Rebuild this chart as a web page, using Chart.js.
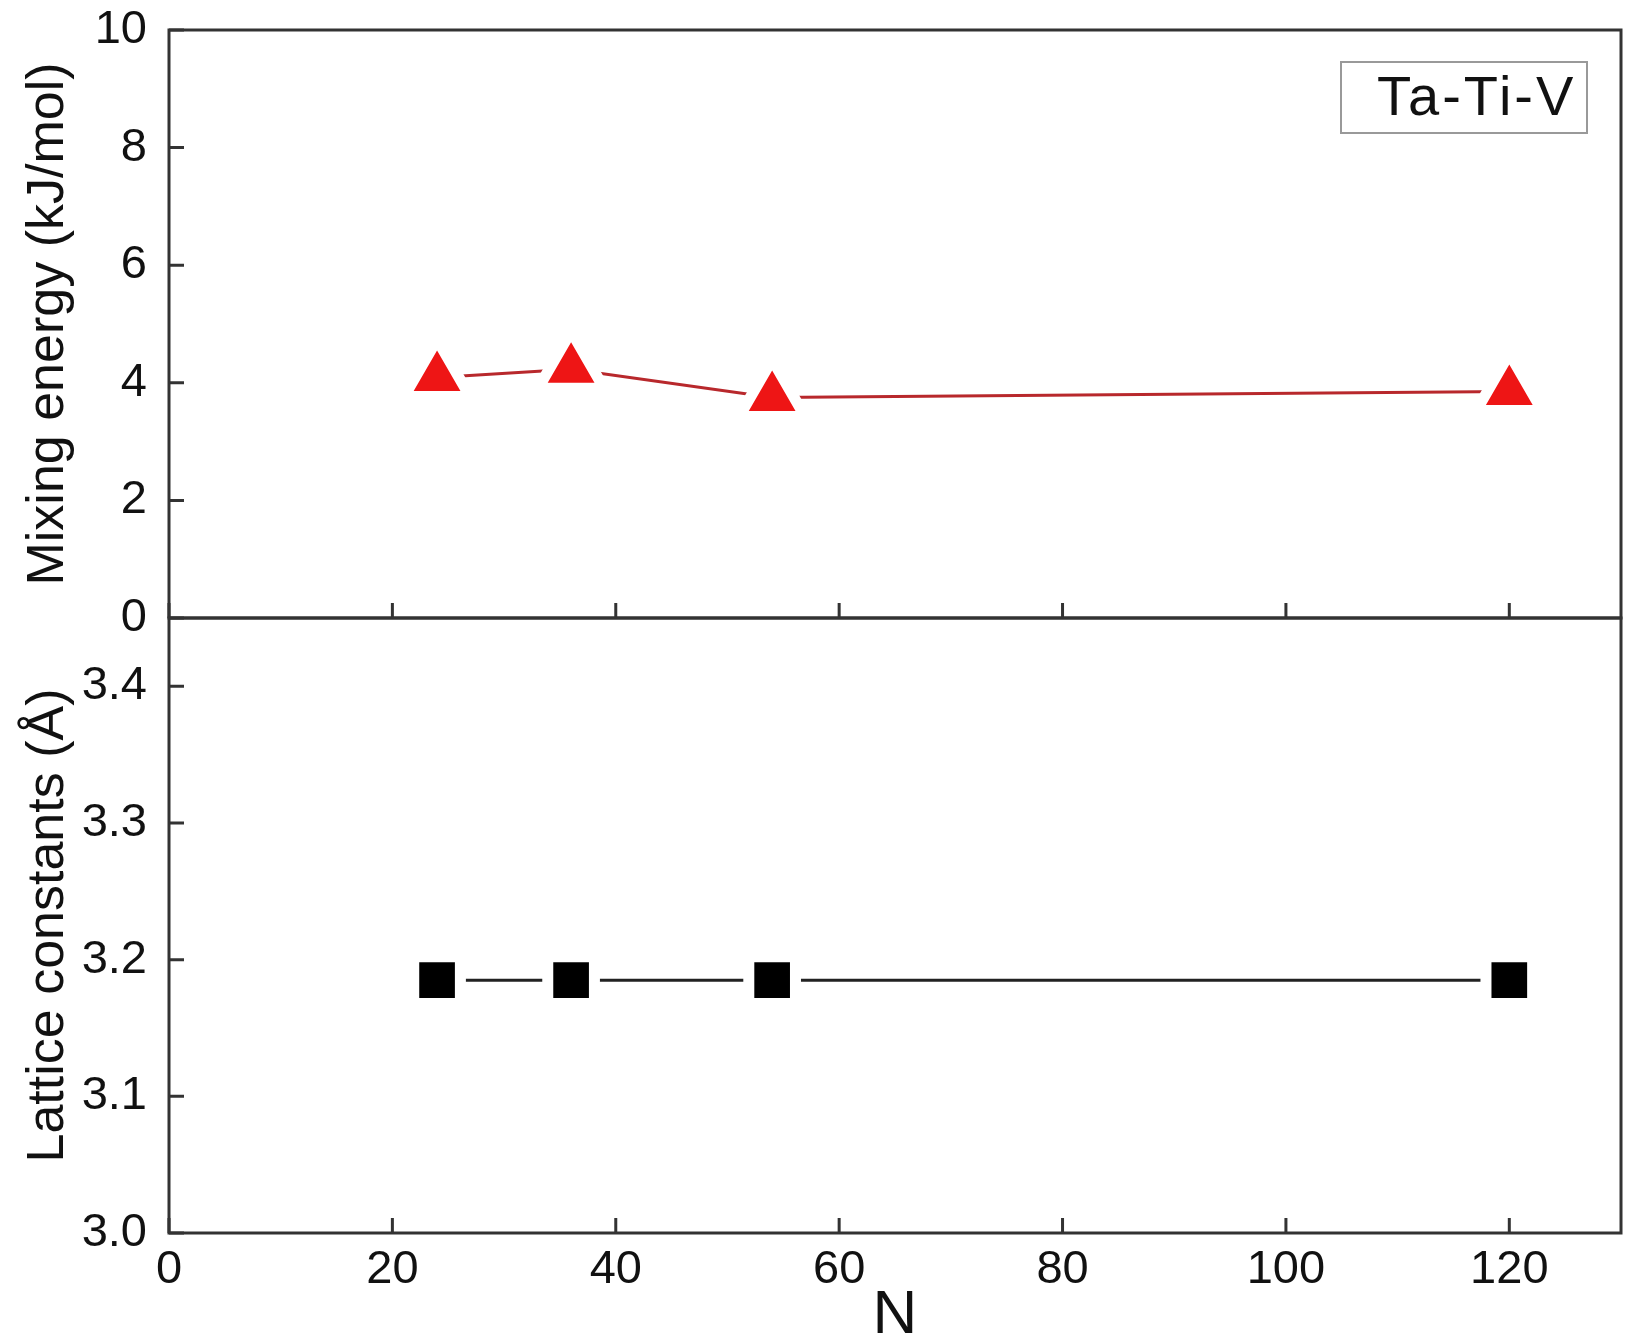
<!DOCTYPE html>
<html>
<head>
<meta charset="utf-8">
<script src="https://cdn.jsdelivr.net/npm/chart.js@4.4.1/dist/chart.umd.min.js"></script>
<style>
  html, body { margin: 0; padding: 0; background: #fff; overflow: hidden; }
  #wrap { position: relative; width: 1650px; height: 1343px; overflow: hidden; }
  canvas { position: absolute; left: 0; }
  #top { top: 0; }
  #bottom { top: 578px; }
</style>
</head>
<body>
<div id="wrap">
  <canvas id="top" width="1650" height="680"></canvas>
  <canvas id="bottom" width="1650" height="775"></canvas>
</div>
<script>
const nValues = [24, 36, 54, 120]
const mixingEnergy = [4.09, 4.23, 3.75, 3.85]
const latticeConstants = [3.185, 3.185, 3.185, 3.185]

const xTicks = [0, 20, 40, 60, 80, 100, 120]
const energyTicks = [0, 2, 4, 6, 8, 10]
const latticeTicks = [3.0, 3.1, 3.2, 3.3, 3.4]

const FONT = "'Liberation Sans', Arial, sans-serif"
const AXIS = "#333"
const TEXT = "#111"

// рамка и короткие засечки внутрь области графика
const frameTicks = {
  id: "frameTicks",
  afterDraw(chart) {
    const { ctx, chartArea: a, scales: { x, y } } = chart
    ctx.save()
    ctx.strokeStyle = AXIS
    ctx.lineWidth = 3
    ctx.beginPath()
    x.ticks.forEach(t => {
      const px = x.getPixelForValue(t.value)
      ctx.moveTo(px, a.bottom)
      ctx.lineTo(px, a.bottom - 15)
    })
    y.ticks.forEach(t => {
      const py = y.getPixelForValue(t.value)
      ctx.moveTo(a.left, py)
      ctx.lineTo(a.left + 15, py)
    })
    ctx.stroke()
    ctx.strokeRect(a.left, a.top, a.width, a.height)
    ctx.restore()
  }
}

const systemLabel = {
  id: "systemLabel",
  afterDraw(chart) {
    const { ctx, chartArea: a } = chart
    const w = 246, h = 71
    const left = a.right - 34 - w
    const top = a.top + 32
    ctx.save()
    ctx.strokeStyle = "#999"
    ctx.lineWidth = 2
    ctx.strokeRect(left, top, w, h)
    ctx.fillStyle = TEXT
    ctx.font = `56px ${FONT}`
    ctx.letterSpacing = "3px"
    ctx.textBaseline = "middle"
    ctx.textAlign = "left"
    ctx.fillText("Ta-Ti-V", left + 36, top + h / 2 + 2)
    ctx.restore()
  }
}

function xScale(showLabels, height) {
  return {
    type: "linear",
    min: 0,
    max: 130,
    afterBuildTicks: s => { s.ticks = xTicks.map(v => ({ value: v })) },
    afterFit: s => {
      s.height = height
      s.paddingLeft = 0
      s.paddingRight = 0
    },
    grid: { display: false, drawTicks: false },
    border: { display: false },
    ticks: {
      display: showLabels,
      padding: 9,
      color: TEXT,
      font: { family: FONT, size: 47 }
    },
    title: {
      display: showLabels,
      text: "N",
      color: TEXT,
      padding: { top: 0, bottom: 0 },
      font: { family: FONT, size: 62 }
    }
  }
}

function yScale(min, max, tickList, label, fmt) {
  return {
    type: "linear",
    min,
    max,
    afterBuildTicks: s => { s.ticks = tickList.map(v => ({ value: v })) },
    afterFit: s => {
      s.width = 169
      s.paddingTop = 0
      s.paddingBottom = 0
    },
    grid: { display: false, drawTicks: false },
    border: { display: false },
    ticks: {
      padding: 22,
      color: TEXT,
      font: { family: FONT, size: 47 },
      callback: fmt
    },
    title: {
      display: true,
      text: label,
      color: TEXT,
      padding: { top: 17, bottom: 0 },
      font: { family: FONT, size: 52 }
    }
  }
}

const common = {
  responsive: false,
  animation: false,
  plugins: { legend: { display: false }, tooltip: { enabled: false } }
}

new Chart(document.getElementById("top"), {
  type: "line",
  data: {
    datasets: [{
      label: "Mixing energy",
      data: nValues.map((n, i) => ({ x: n, y: mixingEnergy[i] })),
      borderColor: "#b8282c",
      borderWidth: 3,
      pointStyle: "triangle",
      pointRadius: 38,
      pointBackgroundColor: "#ee1515",
      pointBorderColor: "#ffffff",
      pointBorderWidth: 11,
      tension: 0
    }]
  },
  options: {
    ...common,
    layout: { autoPadding: false, padding: { top: 30, right: 29, left: 0, bottom: 0 } },
    scales: {
      x: xScale(false, 62),
      y: yScale(0, 10, energyTicks, "Mixing energy (kJ/mol)", v => String(v))
    }
  },
  plugins: [frameTicks, systemLabel]
})

new Chart(document.getElementById("bottom"), {
  type: "line",
  data: {
    datasets: [{
      label: "Lattice constants",
      data: nValues.map((n, i) => ({ x: n, y: latticeConstants[i] })),
      borderColor: "#222",
      borderWidth: 3,
      pointStyle: "rect",
      pointRadius: 33,
      pointBackgroundColor: "#000",
      pointBorderColor: "#ffffff",
      pointBorderWidth: 11,
      tension: 0
    }]
  },
  options: {
    ...common,
    layout: { autoPadding: false, padding: { top: 40, right: 29, left: 0, bottom: 0 } },
    scales: {
      x: xScale(true, 120),
      y: yScale(3.0, 3.45, latticeTicks, "Lattice constants (Å)", v => v.toFixed(1))
    }
  },
  plugins: [frameTicks]
})
</script>
</body>
</html>
